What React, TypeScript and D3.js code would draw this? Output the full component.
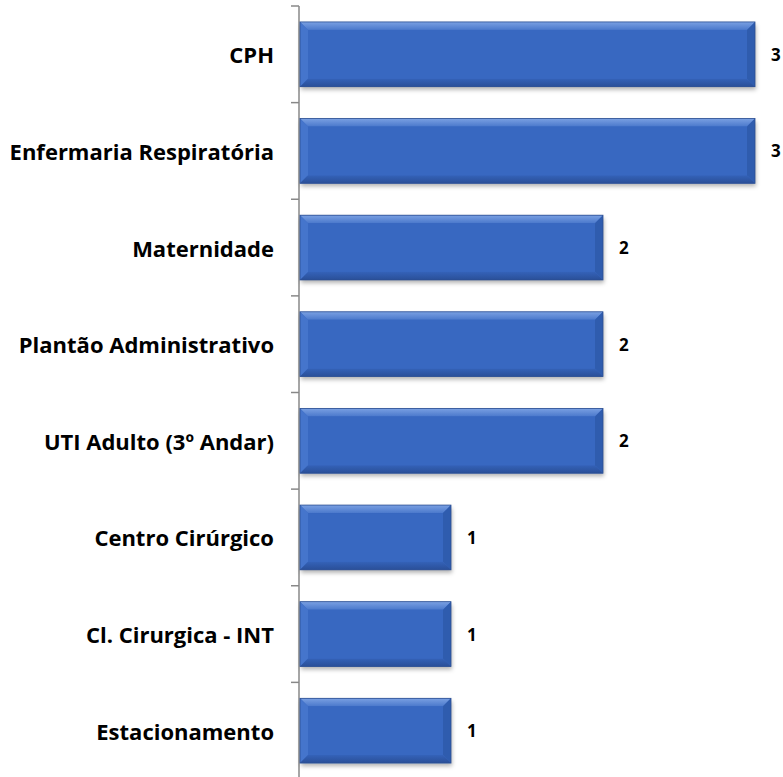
import React from 'react';
import * as d3 from 'd3';

const categories = [
  'CPH',
  'Enfermaria Respiratória',
  'Maternidade',
  'Plantão Administrativo',
  'UTI Adulto (3º Andar)',
  'Centro Cirúrgico',
  'Cl. Cirurgica - INT',
  'Estacionamento',
];
const values = [3, 3, 2, 2, 2, 1, 1, 1];

export default function App() {
  const width = 783;
  const height = 777;
  const axisX = 299;

  const x = d3.scaleLinear().domain([0, 3]).range([axisX, 755]);
  const y = d3.scaleBand<string>().domain(categories).range([6, 779]).paddingInner(0.33).paddingOuter(0.165);
  const ticks = d3.range(categories.length + 1).map(i => 6 + (i * (779 - 6)) / categories.length);
  const bw = y.bandwidth();
  const bev = 8;

  return (
    <svg width={width} height={height} style={{ position: 'absolute', left: 0, top: 0, background: '#fff' }}>
      <defs>
        <filter id="shadow" x="-5%" y="-20%" width="115%" height="150%">
          <feDropShadow dx="1" dy="3" stdDeviation="2" floodColor="#000" floodOpacity="0.3" />
        </filter>
        <linearGradient id="topBev" x1="0" y1="0" x2="0" y2="1">
          <stop offset="0%" stopColor="#7aa0e2" />
          <stop offset="100%" stopColor="#4b79cc" />
        </linearGradient>
        <linearGradient id="botBev" x1="0" y1="0" x2="0" y2="1">
          <stop offset="0%" stopColor="#3462b8" />
          <stop offset="100%" stopColor="#2a4f98" />
        </linearGradient>
      </defs>

      {/* axis line and ticks */}
      <line x1={axisX} x2={axisX} y1={ticks[0]} y2={height} stroke="#888" strokeWidth={1.5} />
      {ticks.map((t, i) => (
        <line key={i} x1={axisX - 8} x2={axisX} y1={t} y2={t} stroke="#888" strokeWidth={1.5} />
      ))}

      {categories.map((c, i) => {
        const y0 = y(c)!;
        const x0 = x(0) + 1;
        const x1 = x(values[i]);
        const y1 = y0 + bw;
        return (
          <g key={c}>
            <g filter="url(#shadow)">
              <rect x={x0} y={y0} width={x1 - x0} height={bw} fill="#3a69c2" />
            </g>
            <polygon points={`${x0},${y0} ${x1},${y0} ${x1 - bev},${y0 + bev} ${x0 + bev},${y0 + bev}`} fill="url(#topBev)" />
            <polygon points={`${x0},${y0} ${x0 + bev},${y0 + bev} ${x0 + bev},${y1 - bev} ${x0},${y1}`} fill="#4575cc" />
            <polygon points={`${x1},${y0} ${x1},${y1} ${x1 - bev},${y1 - bev} ${x1 - bev},${y0 + bev}`} fill="#2f5cae" />
            <polygon points={`${x0},${y1} ${x0 + bev},${y1 - bev} ${x1 - bev},${y1 - bev} ${x1},${y1}`} fill="url(#botBev)" />
            <rect x={x0 + bev} y={y0 + bev} width={x1 - x0 - 2 * bev} height={bw - 2 * bev} fill="#3868c1" />
            <rect x={x0} y={y0} width={x1 - x0} height={bw} fill="none" stroke="#2c4f92" strokeWidth={0.8} />
            <text
              x={274}
              y={y0 + bw / 2}
              textAnchor="end"
              dominantBaseline="central"
              fontFamily="'Open Sans', sans-serif"
              fontWeight={700}
              fontSize={22}
              fill="#000"
            >
              {c}
            </text>
            <text
              x={x1 + 16}
              y={y0 + bw / 2}
              dominantBaseline="central"
              fontFamily="'Open Sans', sans-serif"
              fontWeight={700}
              fontSize={17}
              fill="#000"
            >
              {values[i]}
            </text>
          </g>
        );
      })}
    </svg>
  );
}
